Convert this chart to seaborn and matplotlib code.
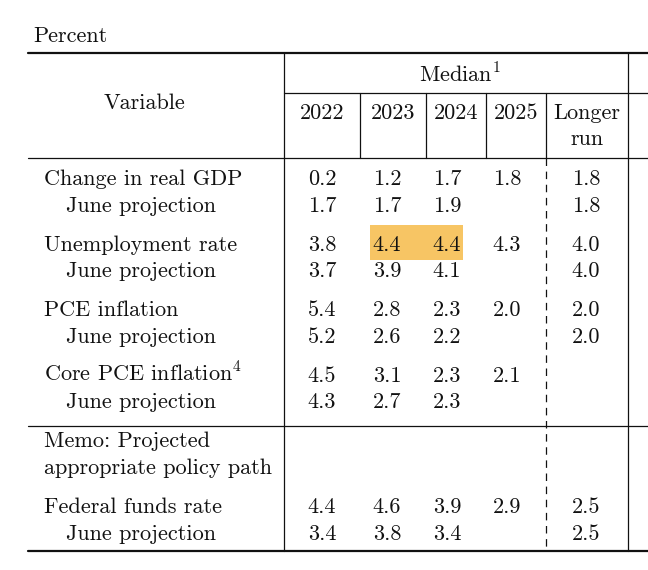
import matplotlib
matplotlib.use("Agg")
import seaborn as sns
from matplotlib import pyplot as plt
from matplotlib.patches import Rectangle

# table content
variables = ["Change in real GDP", "June projection",
             "Unemployment rate", "June projection",
             "PCE inflation", "June projection",
             "Core PCE inflation$^4$", "June projection",
             "Federal funds rate", "June projection"]
indented = [False, True, False, True, False, True, False, True, False, True]
years = ["2022", "2023", "2024", "2025"]
y2022 = [0.2, 1.7, 3.8, 3.7, 5.4, 5.2, 4.5, 4.3, 4.4, 3.4]
y2023 = [1.2, 1.7, 4.4, 3.9, 2.8, 2.6, 3.1, 2.7, 4.6, 3.8]
y2024 = [1.7, 1.9, 4.4, 4.1, 2.3, 2.2, 2.3, 2.3, 3.9, 3.4]
y2025 = [1.8, None, 4.3, None, 2.0, None, 2.1, None, 2.9, None]
longer_run = [1.8, 1.8, 4.0, 4.0, 2.0, 2.0, None, None, 2.5, 2.5]
memo = ["Memo: Projected", "appropriate policy path"]
highlight = [(2, 1), (2, 2)]   # (row, column) of highlighted cells

sns.set_style("white")
plt.rcParams["font.family"] = ["cmr10", "DejaVu Serif"]
plt.rcParams["mathtext.fontset"] = "cm"
plt.rcParams["axes.unicode_minus"] = False

fig = plt.figure(figsize=(6.48, 5.70), dpi=100)
ax = fig.add_axes([0, 0, 1, 1])
ax.set_xlim(0, 648)
ax.set_ylim(570, 0)
ax.axis("off")

fs = 16
ink = "#111111"

# layout
left, right = 28, 648
col_edges = [284, 360, 426, 486, 546, 628]
val_x = [322, 387, 447, 507, 586]
top, bottom = 53, 551
median_rule, head_rule, memo_rule = 93, 158, 426
group_y0, group_step, pair_step = 179, 65.6, 26.5

def row_y(i):
    g = i // 2
    if g >= 4:
        g += 1  # the memo block takes one group slot
    return group_y0 + g * group_step + (i % 2) * pair_step

def put(x, y, s, ha="left"):
    ax.text(x, y + 6, s, fontsize=fs, ha=ha, va="baseline", color=ink)

# highlighted cells
hl_rows = sorted(set(r for r, c in highlight))
hl_cols = sorted(set(c for r, c in highlight))
y_hl = row_y(hl_rows[0])
x0 = val_x[hl_cols[0]] - 17
x1 = val_x[hl_cols[-1]] + 16
ax.add_patch(Rectangle((x0, y_hl - 20), x1 - x0, 35, color="#F7C564", lw=0, zorder=0))

# rules
ax.plot([left, right], [top, top], color=ink, lw=1.6)
ax.plot([left, right], [bottom, bottom], color=ink, lw=1.6)
ax.plot([left, right], [head_rule, head_rule], color=ink, lw=0.9)
ax.plot([left, right], [memo_rule, memo_rule], color=ink, lw=0.9)
ax.plot([col_edges[0], right], [median_rule, median_rule], color=ink, lw=0.9)
for x in (col_edges[0], col_edges[-1]):
    ax.plot([x, x], [top, bottom], color=ink, lw=0.9)
for x in col_edges[1:5]:
    ax.plot([x, x], [median_rule, head_rule], color=ink, lw=0.9)
ax.plot([col_edges[4], col_edges[4]], [head_rule, bottom], color=ink, lw=0.9,
        linestyle=(0, (6, 4.5)))

# header
ax.text(33, 42, "Percent", fontsize=fs, ha="left", va="baseline", color=ink)
ax.text(144, 103, "Variable", fontsize=fs, ha="center", va="center", color=ink)
ax.text(460, 74, "Median$^1$", fontsize=fs, ha="center", va="center", color=ink)
for j, yr in enumerate(years):
    cx = (col_edges[j] + col_edges[j + 1]) / 2
    put(cx, 113, yr, ha="center")
cx = (col_edges[4] + col_edges[5]) / 2
put(cx, 113, "Longer", ha="center")
put(cx, 139, "run", ha="center")

# body
columns = [y2022, y2023, y2024, y2025, longer_run]
for i, name in enumerate(variables):
    y = row_y(i)
    put(66 if indented[i] else 44, y, name)
    for j, col in enumerate(columns):
        v = col[i]
        if v is not None:
            put(val_x[j], y, f"{v:.1f}", ha="center")

for k, line in enumerate(memo):
    put(44, 441 + k * pair_step, line)

fig.savefig("out.png", dpi=100)
